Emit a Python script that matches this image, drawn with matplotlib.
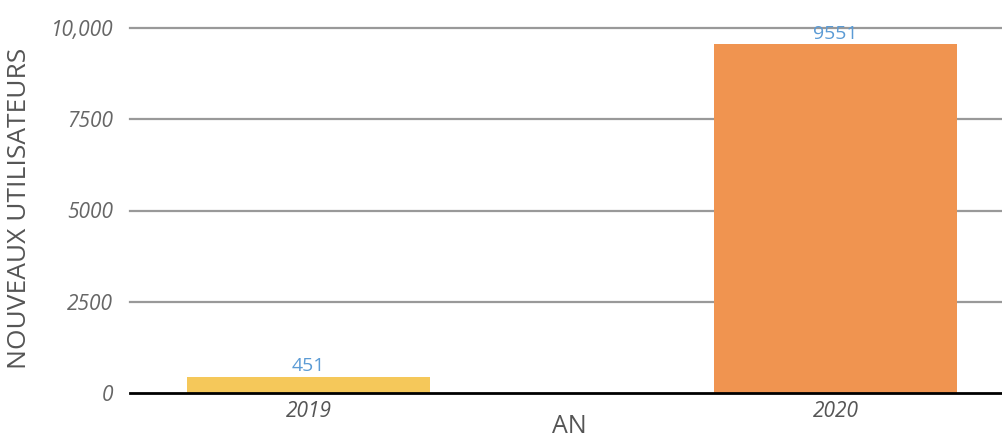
import matplotlib
matplotlib.use("Agg")
import matplotlib.pyplot as plt

categories = ["2019", "2020"]
values = [451, 9551]
bar_colors = ["#F5C85A", "#F09450"]
yticks = [0, 2500, 5000, 7500, 10000]
ytick_labels = ["0", "2500", "5000", "7500", "10,000"]

plt.rcParams['font.family'] = ['Open Sans', 'DejaVu Sans']

W, H = 1003, 441
fig = plt.figure(figsize=(W / 100, H / 100), dpi=100)
left, right, bottom_px, top_px = 130, 1003, 393, 24.35
ax = fig.add_axes([left / W, (H - bottom_px) / H, (right - left) / W, (bottom_px - top_px) / H])

x = list(range(len(categories)))
bars = ax.bar(x, values, width=0.461, color=bar_colors, zorder=3)

ax.set_xlim(-0.339, 1.318)
ax.set_ylim(0, 10100)
ax.set_yticks(yticks)
ax.set_yticklabels(ytick_labels)
ax.set_xticks(x)
ax.set_xticklabels(categories)

for s in ax.spines.values():
    s.set_visible(False)
ax.tick_params(axis='both', length=0)
ax.tick_params(axis='y', pad=12, labelsize=15, labelcolor="#666666")
ax.tick_params(axis='x', pad=6, labelsize=15, labelcolor="#555555")
for t in ax.get_yticklabels() + ax.get_xticklabels():
    t.set_fontstyle('italic')

for yv in yticks[1:]:
    ax.axhline(yv, color="#999999", lw=1.6, zorder=1, clip_on=False)
ax.axhline(0, color="black", lw=2.0, zorder=4, clip_on=False)

for xi, v in zip(x, values):
    ax.annotate(f"{v}", (xi, v), xytext=(0, 1), textcoords="offset points",
                ha='center', va='bottom', fontsize=14, color="#5B9BD5", zorder=5)

ax.set_ylabel("NOUVEAUX UTILISATEURS", fontsize=19, color="#555555")
ax.yaxis.set_label_coords(-0.112, 0.5)
ax.set_xlabel("AN", fontsize=18, color="#555555")
ax.xaxis.set_label_coords(0.503, -0.058)

fig.savefig("out.png", dpi=100)
